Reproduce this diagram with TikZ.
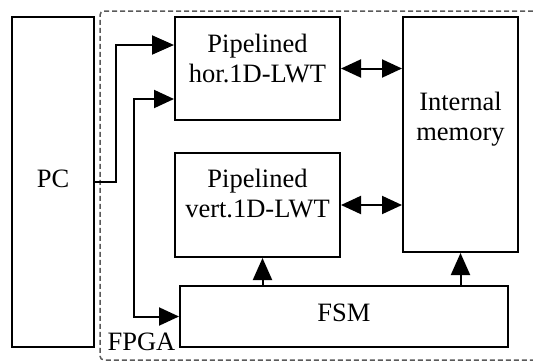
\documentclass[tikz,border=0pt]{standalone}
\usepackage{fontspec}
\setmainfont{Liberation Serif}
\usetikzlibrary{arrows.meta}

\tikzset{
	box/.style     = {draw, rectangle, inner sep=0pt},
	txt/.style     = {align=center, inner sep=0pt},
	arr/.style     = {-{Triangle[length=22pt,width=19pt]}},
	dbl/.style     = {{Triangle[length=20pt,width=18pt]}-{Triangle[length=20pt,width=18pt]}},
	fpgaline/.style= {draw=gray!70!black, line width=1.5pt, dash pattern=on 5pt off 3pt, rounded corners=4pt}
}

\begin{document}
\begin{tikzpicture}[x=1pt,y=-1pt,line width=2pt,font=\fontsize{26.5}{30}\selectfont]
	\useasboundingbox (0,0) rectangle (533,362);
	\draw[fpgaline] (533,11) -- (100,11) -- (100,360) -- (533,360);
	\node[box, minimum width=82pt,  minimum height=330pt] (pc)   at (53,182)    {};
	\node[box, minimum width=165pt, minimum height=103pt] (hor)  at (257.5,68.5) {};
	\node[box, minimum width=165pt, minimum height=104pt] (vert) at (257.5,205) {};
	\node[box, minimum width=115pt, minimum height=235pt] (mem)  at (460.5,134.5) {};
	\node[box, minimum width=328pt, minimum height=61pt]  (fsm)  at (344,316.5) {};
	\node[txt] (pctxt)   at ([yshift=3pt]pc)     {PC};
	\node[txt] (hortxt)  at ([yshift=10pt]hor)   {Pipelined\\hor.1D-LWT};
	\node[txt] (verttxt) at ([yshift=11pt]vert)  {Pipelined\\vert.1D-LWT};
	\node[txt] (memtxt)  at ([yshift=15.5pt]mem) {Internal\\memory};
	\node[txt] (fsmtxt)  at ([yshift=3.5pt]fsm)  {FSM};
	\node[txt] (fpga)    at (141.5,342)          {FPGA};
	\draw[arr] (pc.east) -- ++(21,0) |- ([yshift=23.5pt]hor.west);
	\draw[dbl] ([yshift=-30.5pt]hor.west) -- ++(-40,0) |- (fsm.west);
	\draw[dbl] (hor.east) -- (hor.east -| mem.west);
	\draw[dbl] (vert.east) -- (vert.east -| mem.west);
	\draw[arr] ([xshift=5pt]vert.south |- fsm.north) -- ([xshift=5pt]vert.south);
	\draw[arr] (mem.south |- fsm.north) -- (mem.south);
\end{tikzpicture}
\end{document}
